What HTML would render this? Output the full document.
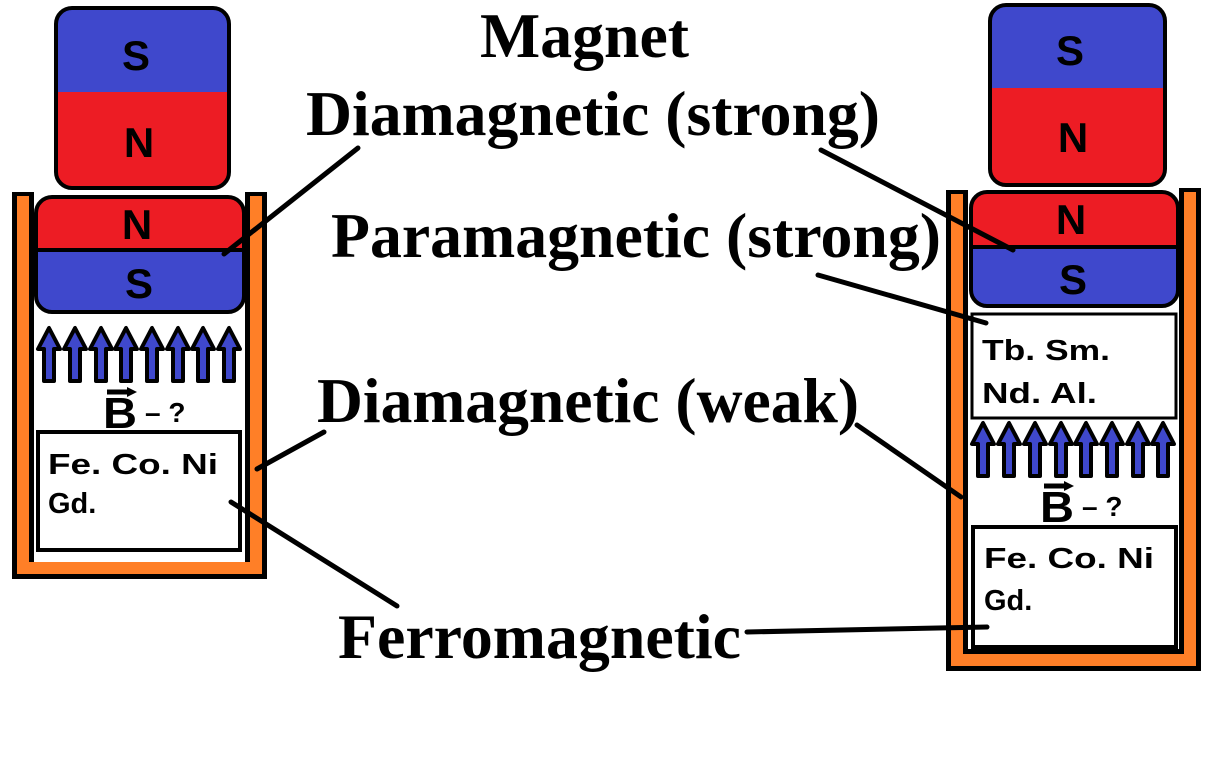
<!DOCTYPE html>
<html><head><meta charset="utf-8"><style>
html,body{margin:0;padding:0;background:#fff;}
svg{display:block;}
.t{font-family:"Liberation Serif",serif;font-weight:bold;font-size:64px;fill:#000;}
.s{font-family:"Liberation Sans",sans-serif;font-weight:bold;fill:#000;}
</style></head><body>
<svg width="1222" height="758" viewBox="0 0 1222 758" xmlns="http://www.w3.org/2000/svg">
<defs>
<g id="arr">
<path d="M0,-27 L-11,-6 L-5,-6 L-5,26 L5,26 L5,-6 L11,-6 Z" fill="#3f48cc" stroke="#000" stroke-width="4" stroke-linejoin="round"/>
</g>
<g id="bq">
<path d="M4,-36 L28,-36" stroke="#000" stroke-width="5"/>
<path d="M24,-41 L34,-36 L24,-31 Z" fill="#000"/>
<text x="0" y="0" class="s" font-size="44" textLength="34" lengthAdjust="spacingAndGlyphs">B</text>
<text x="42" y="-6" class="s" font-size="28">– ?</text>
</g>
</defs>

<!-- LEFT -->
<path d="M23,192 L23,568 L256,568 L256,192" fill="none" stroke="#000" stroke-width="22"/>
<path d="M23,196 L23,568 L256,568 L256,196" fill="none" stroke="#ff7f27" stroke-width="12"/>
<rect x="34" y="194" width="211" height="368" fill="#fff"/>
<clipPath id="c1"><rect x="56" y="8" width="173" height="180" rx="16"/></clipPath>
<g clip-path="url(#c1)"><rect x="56" y="8" width="173" height="84" fill="#3f48cc"/><rect x="56" y="92" width="173" height="96" fill="#ed1c24"/></g>
<rect x="56" y="8" width="173" height="180" rx="16" fill="none" stroke="#000" stroke-width="4"/>
<text x="136" y="70" class="s" font-size="42" text-anchor="middle">S</text>
<text x="139" y="157" class="s" font-size="42" text-anchor="middle">N</text>
<clipPath id="c2"><rect x="36" y="197" width="208" height="115" rx="16"/></clipPath>
<g clip-path="url(#c2)"><rect x="36" y="197" width="208" height="53" fill="#ed1c24"/><rect x="36" y="250" width="208" height="62" fill="#3f48cc"/></g>
<line x1="36" y1="250" x2="244" y2="250" stroke="#000" stroke-width="4"/>
<rect x="36" y="197" width="208" height="115" rx="16" fill="none" stroke="#000" stroke-width="4"/>
<text x="137" y="239" class="s" font-size="42" text-anchor="middle">N</text>
<text x="139" y="298" class="s" font-size="42" text-anchor="middle">S</text>
<use href="#arr" x="49" y="355"/><use href="#arr" x="75" y="355"/><use href="#arr" x="101" y="355"/><use href="#arr" x="126" y="355"/>
<use href="#arr" x="152" y="355"/><use href="#arr" x="178" y="355"/><use href="#arr" x="203" y="355"/><use href="#arr" x="229" y="355"/>
<use href="#bq" x="103" y="428"/>
<rect x="38" y="432" width="202" height="118" fill="#fff" stroke="#000" stroke-width="4"/>
<text x="48" y="474" class="s" font-size="29" textLength="170" lengthAdjust="spacingAndGlyphs">Fe. Co. Ni</text>
<text x="48" y="513" class="s" font-size="29">Gd.</text>

<!-- RIGHT -->
<path d="M957,190 L957,660 L1190,660 L1190,188" fill="none" stroke="#000" stroke-width="22"/>
<path d="M957,194 L957,660 L1190,660 L1190,192" fill="none" stroke="#ff7f27" stroke-width="12"/>
<rect x="968" y="190" width="211" height="459" fill="#fff"/>
<clipPath id="c3"><rect x="990" y="5" width="175" height="180" rx="16"/></clipPath>
<g clip-path="url(#c3)"><rect x="990" y="5" width="175" height="83" fill="#3f48cc"/><rect x="990" y="88" width="175" height="97" fill="#ed1c24"/></g>
<rect x="990" y="5" width="175" height="180" rx="16" fill="none" stroke="#000" stroke-width="4"/>
<text x="1070" y="65" class="s" font-size="42" text-anchor="middle">S</text>
<text x="1073" y="152" class="s" font-size="42" text-anchor="middle">N</text>
<clipPath id="c4"><rect x="971" y="192" width="207" height="114" rx="16"/></clipPath>
<g clip-path="url(#c4)"><rect x="971" y="192" width="207" height="55" fill="#ed1c24"/><rect x="971" y="247" width="207" height="59" fill="#3f48cc"/></g>
<line x1="971" y1="247" x2="1178" y2="247" stroke="#000" stroke-width="4"/>
<rect x="971" y="192" width="207" height="114" rx="16" fill="none" stroke="#000" stroke-width="4"/>
<text x="1071" y="234" class="s" font-size="42" text-anchor="middle">N</text>
<text x="1073" y="294" class="s" font-size="42" text-anchor="middle">S</text>
<rect x="972" y="314" width="204" height="104" fill="#fff" stroke="#000" stroke-width="3"/>
<text x="982" y="360" class="s" font-size="29" textLength="128" lengthAdjust="spacingAndGlyphs">Tb. Sm.</text>
<text x="982" y="403" class="s" font-size="29" textLength="115" lengthAdjust="spacingAndGlyphs">Nd. Al.</text>
<use href="#arr" x="983" y="450"/><use href="#arr" x="1009" y="450"/><use href="#arr" x="1035" y="450"/><use href="#arr" x="1061" y="450"/>
<use href="#arr" x="1086" y="450"/><use href="#arr" x="1112" y="450"/><use href="#arr" x="1138" y="450"/><use href="#arr" x="1163" y="450"/>
<use href="#bq" x="1040" y="522"/>
<rect x="973" y="527" width="203" height="120" fill="#fff" stroke="#000" stroke-width="4"/>
<text x="984" y="568" class="s" font-size="29" textLength="170" lengthAdjust="spacingAndGlyphs">Fe. Co. Ni</text>
<text x="984" y="610" class="s" font-size="29">Gd.</text>

<!-- labels -->
<text x="480" y="57" class="t" textLength="209" lengthAdjust="spacingAndGlyphs">Magnet</text>
<text x="306" y="135" class="t" textLength="574" lengthAdjust="spacingAndGlyphs">Diamagnetic (strong)</text>
<text x="331" y="257" class="t" textLength="610" lengthAdjust="spacingAndGlyphs">Paramagnetic (strong)</text>
<text x="317" y="422" class="t" textLength="542" lengthAdjust="spacingAndGlyphs">Diamagnetic (weak)</text>
<text x="338" y="658" class="t" textLength="403" lengthAdjust="spacingAndGlyphs">Ferromagnetic</text>

<g stroke="#000" stroke-width="5" stroke-linecap="round">
<line x1="358" y1="148" x2="224" y2="254"/>
<line x1="821" y1="150" x2="1013" y2="250"/>
<line x1="818" y1="275" x2="986" y2="323"/>
<line x1="324" y1="432" x2="257" y2="469"/>
<line x1="857" y1="425" x2="961" y2="497"/>
<line x1="231" y1="502" x2="397" y2="606"/>
<line x1="747" y1="632" x2="987" y2="627"/>
</g>
</svg>
</body></html>
